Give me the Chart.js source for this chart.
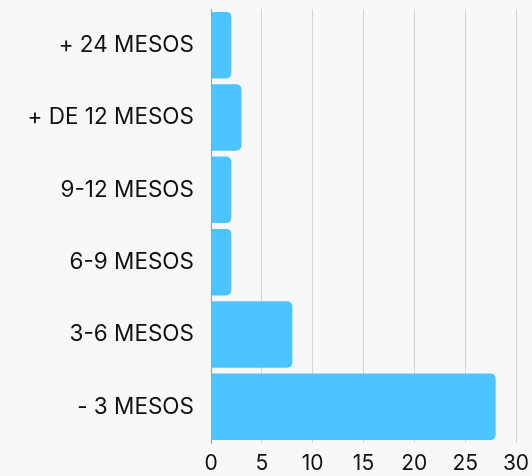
<!DOCTYPE html>
<html>
<head>
<meta charset="utf-8">
<script src="https://cdn.jsdelivr.net/npm/chart.js@4"></script>
<style>
  html, body { margin: 0; padding: 0; background: #f8f8f8; overflow: hidden; }
  canvas { display: block; }
</style>
</head>
<body>
<canvas id="mesosChart" width="532" height="476"></canvas>
<script>
const categories = ['+ 24 MESOS', '+ DE 12 MESOS', '9-12 MESOS', '6-9 MESOS', '3-6 MESOS', '- 3 MESOS'];
const counts = [2, 3, 2, 2, 8, 28];
const xTicks = [0, 5, 10, 15, 20, 25, 30];

const ctx = document.getElementById('mesosChart').getContext('2d');
const mesosChart = new Chart(ctx, {
    type: 'bar',
    data: {
        labels: categories,
        datasets: [{
            data: counts,
            backgroundColor: '#4bc4ff',
            borderRadius: 5,
            borderSkipped: 'start',
            categoryPercentage: 1,
            barPercentage: 0.92
        }]
    },
    options: {
        indexAxis: 'y',
        responsive: false,
        animation: false,
        layout: { padding: { top: 9, right: 0, left: 0, bottom: 0 } },
        plugins: {
            legend: { display: false },
            tooltip: { enabled: false }
        },
        scales: {
            x: {
                min: 0,
                max: 30,
                afterBuildTicks: axis => { axis.ticks = xTicks.map(v => ({ value: v })); },
                grid: { color: '#d4d4d4', drawTicks: false },
                border: { display: false },
                ticks: { color: '#111', padding: 8, font: { family: 'Inter', size: 21 } },
                afterFit: scale => {
                    scale.height = 33;
                    scale.paddingRight = 16;
                }
            },
            y: {
                grid: { display: false },
                border: { display: true, color: '#9a9a9a', width: 1 },
                ticks: { color: '#111', padding: 9, font: { family: 'Inter', size: 22.5 } },
                // labels sit inside their bands, so no extra room above/below the plot
                afterFit: scale => {
                    scale.paddingTop = 0;
                    scale.paddingBottom = 0;
                    scale.width = 211;
                }
            }
        }
    }
});
</script>
</body>
</html>
